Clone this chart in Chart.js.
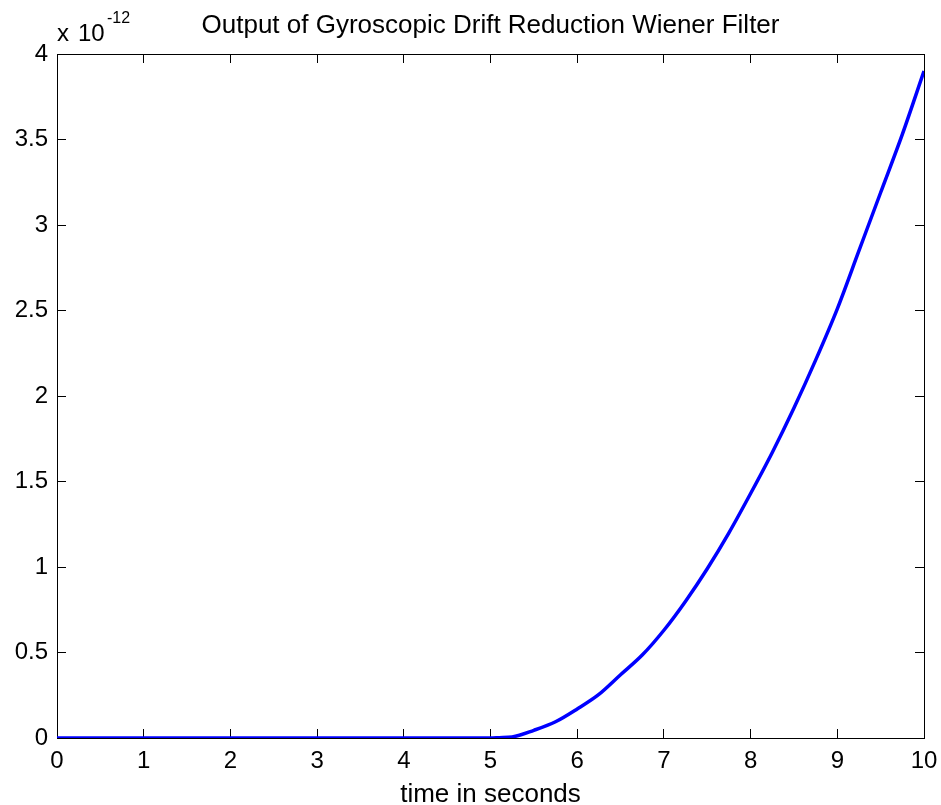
<!DOCTYPE html>
<html>
<head>
<meta charset="utf-8">
<script src="https://cdn.jsdelivr.net/npm/chart.js@4"></script>
<style>
  body { margin: 0; background: #fff; }
  #wrap { position: relative; width: 941px; height: 805px; }
  .mult { position: absolute; font-family: "Liberation Sans", Arial, sans-serif; color: #000; white-space: nowrap; }
</style>
</head>
<body>
<div id="wrap">
  <canvas id="driftChart" width="941" height="805"></canvas>
  <span class="mult" style="left:57px; top:21px; font-size:24px; line-height:24px;">x</span>
  <span class="mult" style="left:78px; top:21px; font-size:24px; line-height:24px;">10</span>
  <span class="mult" style="left:107px; top:10px; font-size:16px; line-height:16px;">-12</span>
</div>
<script>
// time axis (seconds) and filter output (units of 1e-12)
const timeSec = [0, 1, 2, 3, 4, 5, 5.1, 5.25, 5.5, 5.75, 6, 6.25, 6.5, 6.75, 7, 7.25, 7.5, 7.75, 8, 8.25, 8.5, 8.75, 9, 9.25, 9.5, 9.75, 10];
const output = [0, 0, 0, 0, 0, 0, 0.002, 0.006, 0.045, 0.095, 0.17, 0.255, 0.37, 0.485, 0.63, 0.80, 0.99, 1.20, 1.43, 1.67, 1.93, 2.21, 2.51, 2.85, 3.19, 3.53, 3.9];

const xTickLabels = ["0", "1", "2", "3", "4", "5", "6", "7", "8", "9", "10"];
const yTickLabels = ["0", "0.5", "1", "1.5", "2", "2.5", "3", "3.5", "4"];

const chartTitle = "Output of Gyroscopic Drift Reduction Wiener Filter";
const xTitle = "time in seconds";

Chart.defaults.font.family = '"Liberation Sans", Arial, sans-serif';
Chart.defaults.color = "#000";

const points = timeSec.map((t, i) => ({ x: t, y: output[i] }));

const axisLook = {
    grid: { drawOnChartArea: false, drawTicks: true, tickLength: -9, color: "#000", lineWidth: 1 },
    border: { display: true, color: "#000", width: 1 }
};

const config = {
    type: "line",
    data: {
        datasets: [
            {
                data: points,
                borderColor: "#0000ff",
                borderWidth: 3.5,
                pointRadius: 0,
                cubicInterpolationMode: "monotone",
                fill: false
            }
        ]
    },
    options: {
        responsive: false,
        animation: false,
        devicePixelRatio: 1,
        layout: { padding: 0 },
        plugins: {
            legend: { display: false },
            tooltip: { enabled: false },
            title: {
                display: true,
                text: chartTitle,
                fullSize: false,
                color: "#000",
                font: { size: 26, weight: "normal", lineHeight: 1.2 },
                padding: { top: 10, bottom: 12.8 }
            }
        },
        scales: {
            x: {
                type: "linear",
                position: "bottom",
                min: 0,
                max: 10,
                ...axisLook,
                ticks: {
                    stepSize: 1,
                    padding: 18,
                    maxRotation: 0,
                    font: { size: 24 },
                    callback: (v, i) => xTickLabels[i]
                },
                title: {
                    display: true,
                    text: xTitle,
                    font: { size: 26, lineHeight: 0.8 },
                    padding: 0
                },
                afterFit: (scale) => {
                    scale.height = 67;
                    scale.paddingLeft = 0;
                    scale.paddingRight = 0;
                }
            },
            y: {
                type: "linear",
                position: "left",
                min: 0,
                max: 4,
                ...axisLook,
                ticks: {
                    stepSize: 0.5,
                    padding: 18,
                    font: { size: 24 },
                    callback: (v, i) => yTickLabels[i]
                },
                afterFit: (scale) => { scale.width = 57; }
            },
            x2: {
                type: "linear",
                position: "top",
                min: 0,
                max: 10,
                ...axisLook,
                ticks: { stepSize: 1, display: false },
                afterFit: (scale) => { scale.height = 0; }
            },
            y2: {
                type: "linear",
                position: "right",
                min: 0,
                max: 4,
                ...axisLook,
                ticks: { stepSize: 0.5, display: false },
                afterFit: (scale) => { scale.width = 17; }
            }
        }
    }
};

new Chart(document.getElementById("driftChart"), config);
</script>
</body>
</html>
